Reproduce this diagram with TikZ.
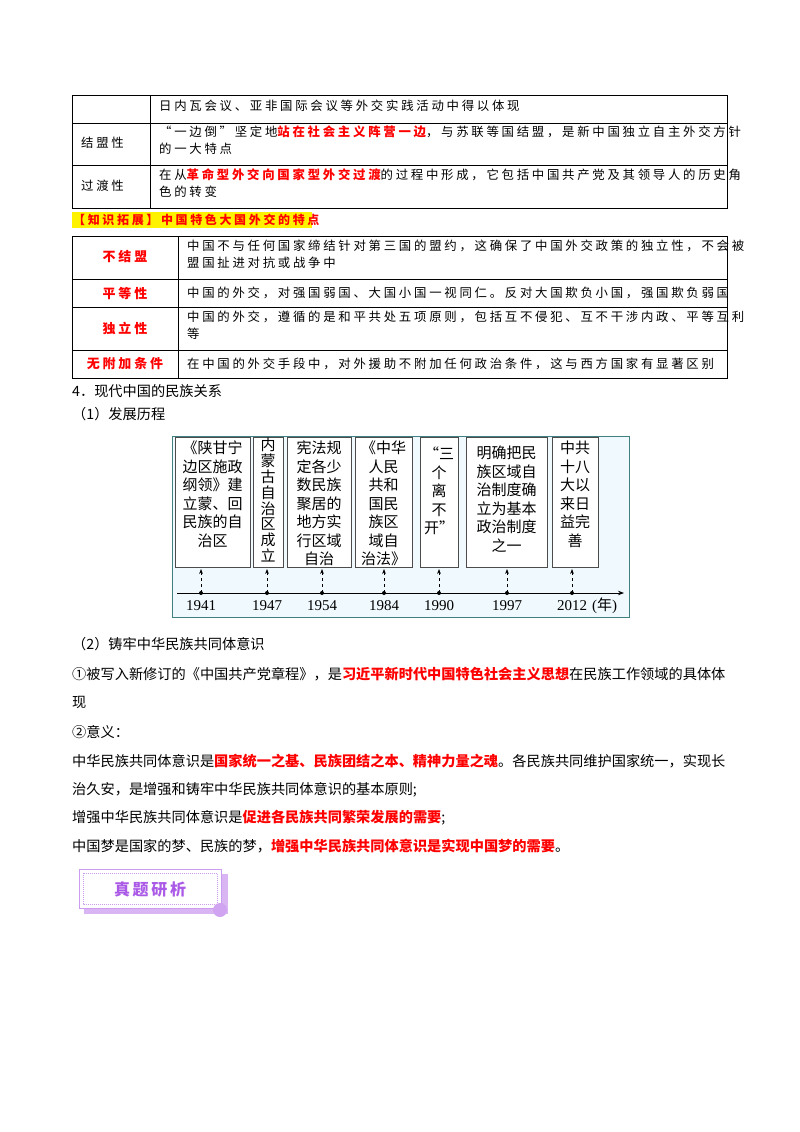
\documentclass[tikz,border=0pt]{standalone}
\usepackage{fontspec}
\setmainfont{Noto Sans CJK SC}
\newfontfamily\numfont{Liberation Serif}
\newfontfamily\spfont[LetterSpace=22]{Noto Sans CJK SC}
\usetikzlibrary{arrows.meta}
\definecolor{hl}{RGB}{255,0,0}
\definecolor{purp}{RGB}{170,90,230}
\newcommand{\R}[1]{\textcolor{hl}{\bfseries #1}}
\tikzset{
  tb/.style={anchor=north west,font=\spfont\fontsize{12.4}{17}\selectfont,inner sep=0pt,align=left},
  tlab/.style={font=\spfont\fontsize{13}{16}\selectfont\bfseries\color{hl}},
  body/.style={anchor=west,font=\fontsize{14.2}{17}\selectfont,inner sep=0pt},
  ev/.style={draw=black!70,line width=0.8pt,fill=white},
  evt/.style={anchor=north,font=\fontsize{15}{18.5}\selectfont,inner sep=0pt,align=center},
  yr/.style={font=\numfont\fontsize{15}{18}\selectfont,inner sep=0pt},
  tick/.style={dashed,line width=0.7pt,-{Stealth[length=5pt]}}
}
\begin{document}
\begin{tikzpicture}[x=1pt,y=-1pt]
\useasboundingbox (0,0) rectangle (800,1132);
\fill[white] (0,0) rectangle (800,1132);
% table 1
\draw[line width=1pt] (72,95) rectangle (727,208);
\draw[line width=1pt] (72,123) -- (727,123) (72,165) -- (727,165) (150,95) -- (150,208);
\node[tb,anchor=west] (t1a) at (159,106) {日内瓦会议、亚非国际会议等外交实践活动中得以体现};
\node[tb,anchor=west] (t1b) at (81,143) {结盟性};
\node[tb] (t1c) at (159,126) {“一边倒”坚定地\R{站在社会主义阵营一边}，与苏联等国结盟，是新中国独立自主外交方针\\的一大特点};
\node[tb,anchor=west] (t1d) at (81,186) {过渡性};
\node[tb] (t1e) at (159,168) {在从\R{革命型外交向国家型外交过渡}的过程中形成，它包括中国共产党及其领导人的历史角\\色的转变};
% highlight title
\fill[yellow] (72,212) rectangle (312,228);
\node[anchor=west,inner sep=0pt,font=\spfont\fontsize{12}{14}\selectfont\bfseries\color{hl}] (kt) at (73,220) {【知识拓展】中国特色大国外交的特点};
% table 2
\draw[line width=1pt] (72,236) rectangle (727,378);
\draw[line width=1pt] (72,279) -- (727,279) (72,307) -- (727,307) (72,350) -- (727,350) (178,236) -- (178,378);
\node[tlab] (l1) at (125,257) {不结盟};
\node[tlab] (l2) at (125,293) {平等性};
\node[tlab] (l3) at (125,328) {独立性};
\node[tlab] (l4) at (125,364) {无附加条件};
\node[tb] (d1) at (187,240) {中国不与任何国家缔结针对第三国的盟约，这确保了中国外交政策的独立性，不会被\\盟国扯进对抗或战争中};
\node[tb,anchor=west] (d2) at (187,293) {中国的外交，对强国弱国、大国小国一视同仁。反对大国欺负小国，强国欺负弱国};
\node[tb] (d3) at (187,311) {中国的外交，遵循的是和平共处五项原则，包括互不侵犯、互不干涉内政、平等互利\\等};
\node[tb,anchor=west] (d4) at (187,364) {在中国的外交手段中，对外援助不附加任何政治条件，这与西方国家有显著区别};
% section 4
\node[body] (s4) at (72,391) {4．现代中国的民族关系};
\node[body] (s41) at (72,414) {（1）发展历程};
% timeline
\draw[fill=cyan!6!white,draw=teal!50!gray,line width=1pt] (172,436) rectangle (629,617);
\draw[ev] (175,437) rectangle (250,567);
\draw[ev] (253,437) rectangle (283,567);
\draw[ev] (287,437) rectangle (351,567);
\draw[ev] (355,437) rectangle (412,567);
\draw[ev] (420,437) rectangle (458,567);
\draw[ev] (466,437) rectangle (547,567);
\draw[ev] (552,437) rectangle (598,567);
\node[evt] (e1) at (212.5,441) {《陕甘宁\\边区施政\\纲领》建\\立蒙、回\\民族的自\\治区};
\node[evt,font=\fontsize{15}{15.8}\selectfont] (e2) at (268,438) {内\\蒙\\古\\自\\治\\区\\成\\立};
\node[evt] (e3) at (319,441) {宪法规\\定各少\\数民族\\聚居的\\地方实\\行区域\\自治};
\node[evt] (e4) at (383.5,441) {《中华\\人民\\共和\\国民\\族区\\域自\\治法》};
\node[evt] (e5) at (439,447) {“三\\个\\离\\不\\开”};
\node[evt] (e6) at (506.5,446) {明确把民\\族区域自\\治制度确\\立为基本\\政治制度\\之一};
\node[evt] (e7) at (575,441) {中共\\十八\\大以\\来日\\益完\\善};
\coordinate (ax0) at (177,593);
\coordinate (ax1) at (624,593);
\draw[line width=0.8pt,-{Stealth[length=6pt]}] (ax0) -- (ax1);
\foreach \x/\y [count=\i] in {201/1941,267/1947,322/1954,384/1984,439/1990,507/1997,572/2012}{
  \fill (\x,593) circle (2pt);
  \draw[tick] (\x,593) -- (\x,569);
  \node[yr] (y\i) at (\x,606) {\y};
}
\node[anchor=west,inner sep=0pt,font=\numfont\fontsize{15}{18}\selectfont] (nian) at (592,606) {({\rmfamily\fontspec{Noto Sans CJK SC}年})};
% section 2
\node[body] (s42) at (72,644) {（2）铸牢中华民族共同体意识};
\node[body] (p1) at (72,674) {①被写入新修订的《中国共产党章程》，是\R{习近平新时代中国特色社会主义思想}在民族工作领域的具体体};
\node[body] (p1b) at (72,702) {现};
\node[body] (p2) at (72,732) {②意义：};
\node[body] (p3) at (72,761) {中华民族共同体意识是\R{国家统一之基、民族团结之本、精神力量之魂}。各民族共同维护国家统一，实现长};
\node[body] (p3b) at (72,790) {治久安，是增强和铸牢中华民族共同体意识的基本原则;};
\node[body] (p4) at (72,818) {增强中华民族共同体意识是\R{促进各民族共同繁荣发展的需要};};
\node[body] (p5) at (72,846) {中国梦是国家的梦、民族的梦，\R{增强中华民族共同体意识是实现中国梦的需要}。};
% badge
\fill[purp!45] (84,874) rectangle (228,914);
\draw[fill=white,draw=purp!60,line width=1pt] (79,869) rectangle (221,908);
\draw[purp!60,densely dotted,line width=1pt] (83,873) rectangle (217,904);
\fill[purp!55] (220,910) circle (7pt);
\node[font=\fontsize{16}{18}\selectfont\bfseries,text=purp] (bt) at (150,889) {真\,题\,研\,析};
\end{tikzpicture}
\end{document}
